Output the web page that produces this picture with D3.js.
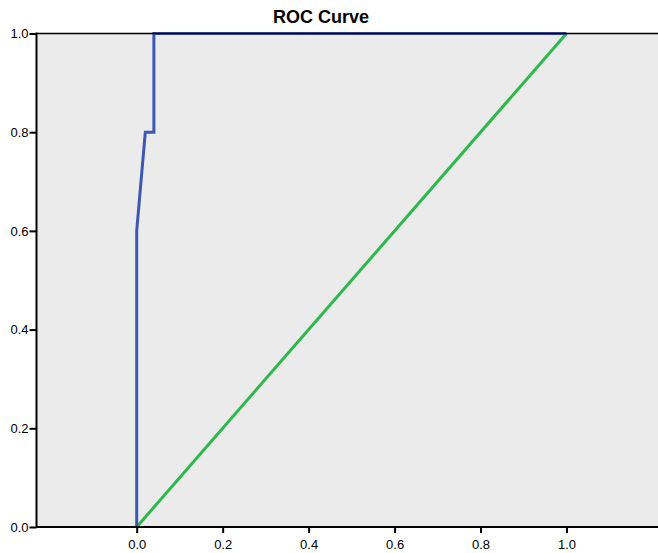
<!DOCTYPE html>
<html><head><meta charset="utf-8">
<script src="https://cdn.jsdelivr.net/npm/d3@7"></script>
<style>body{margin:0;background:#fff}svg{display:block}</style>
</head><body>
<svg id="c" width="658" height="553"></svg>
<script>
const title = "ROC Curve";
const rocFpr = [0, 0, 0.02, 0.04, 0.04, 1];
const rocTpr = [0, 0.6, 0.8, 0.8, 1, 1];
const refFpr = [0, 1];
const refTpr = [0, 1];
const xTicks = [0, 0.2, 0.4, 0.6, 0.8, 1.0];
const yTicks = [0, 0.2, 0.4, 0.6, 0.8, 1.0];

const svg = d3.select("#c");
const L = 36.5, R = 658, T = 33.5, B = 527;
const x = d3.scaleLinear().domain([0, 1]).range([136.7, 566.5]);
const y = d3.scaleLinear().domain([0, 1]).range([B, T]);

svg.append("rect").attr("x", L).attr("y", T).attr("width", R - L).attr("height", B - T).attr("fill", "#ebebeb");

const line = d3.line().x(d => x(d[0])).y(d => y(d[1]));
svg.append("path").datum(refFpr.map((v, i) => [v, refTpr[i]]))
  .attr("d", line).attr("fill", "none").attr("stroke", "#2db84b").attr("stroke-width", 3);
svg.append("path").datum(rocFpr.map((v, i) => [v, rocTpr[i]]))
  .attr("d", line).attr("fill", "none").attr("stroke", "#3c57b4").attr("stroke-width", 3);

// top border
svg.append("line").attr("x1", L).attr("x2", R).attr("y1", T).attr("y2", T).attr("stroke", "#000").attr("stroke-width", 1.5);

const fmt = d3.format(".1f");
const xa = svg.append("g").attr("transform", `translate(0,${B})`)
  .call(d3.axisBottom(x).tickValues(xTicks).tickFormat(fmt).tickSize(6).tickPadding(7));
const ya = svg.append("g").attr("transform", `translate(${L},0)`)
  .call(d3.axisLeft(y).tickValues(yTicks).tickFormat(fmt).tickSize(7).tickPadding(1));
[xa, ya].forEach(g => {
  g.select(".domain").remove();
  g.selectAll(".tick line").attr("stroke", "#000").attr("stroke-width", 2);
  g.selectAll("text").attr("font-family", "Liberation Sans, Arial, sans-serif").attr("font-size", 13).attr("fill", "#000");
});
svg.append("line").attr("x1", L).attr("x2", R).attr("y1", B).attr("y2", B).attr("stroke", "#000").attr("stroke-width", 2);
svg.append("line").attr("x1", L).attr("x2", L).attr("y1", T - 1).attr("y2", B + 1).attr("stroke", "#000").attr("stroke-width", 2);

svg.append("text").attr("x", 321).attr("y", 23).attr("text-anchor", "middle")
  .attr("font-family", "Liberation Sans, Arial, sans-serif").attr("font-weight", "bold").attr("font-size", 18)
  .text(title);
</script>
</body></html>
